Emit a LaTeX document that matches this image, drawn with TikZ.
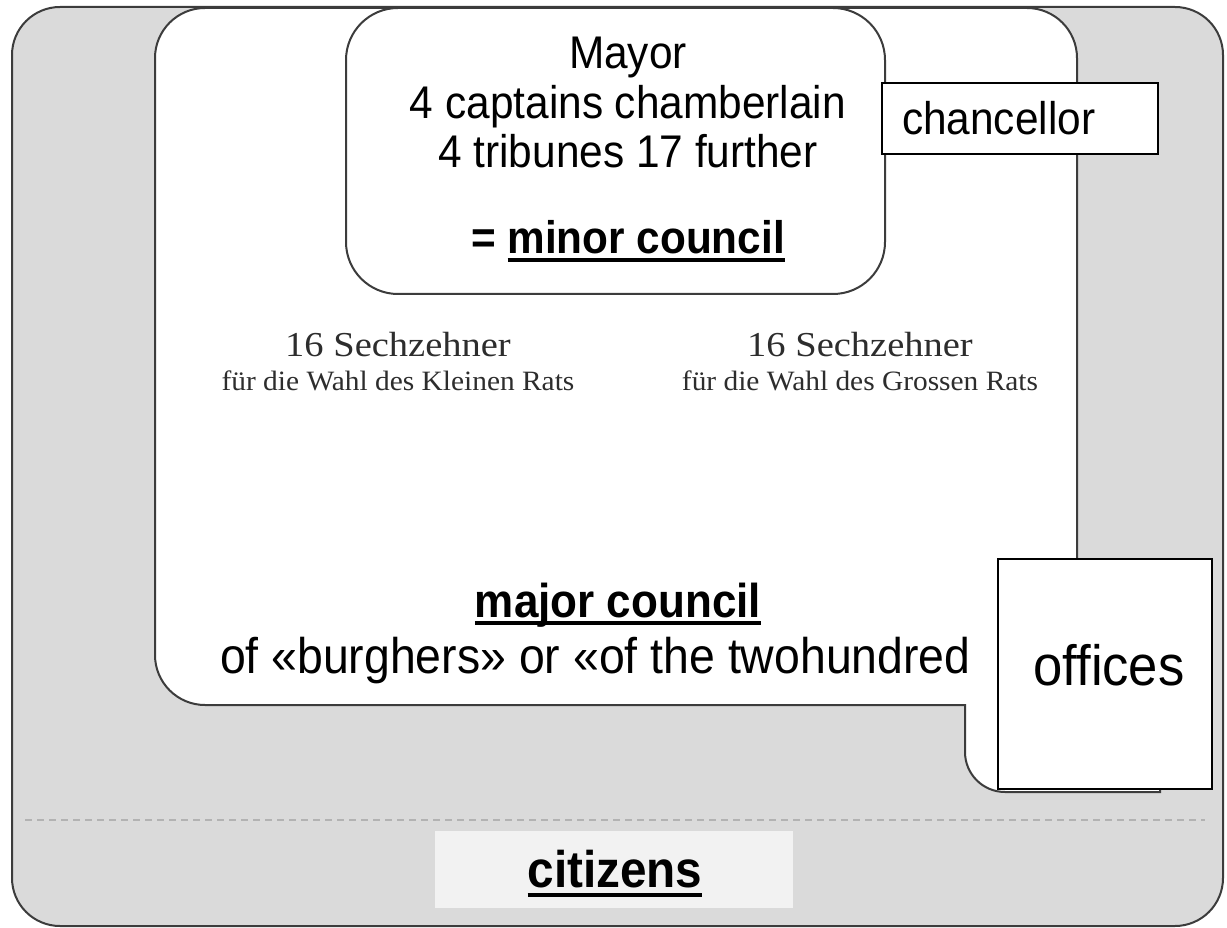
\documentclass[tikz,border=0pt]{standalone}
\usepackage{fontspec}
\usepackage{graphicx}
\newfontfamily\arial{Liberation Sans}
\newfontfamily\serifface{Liberation Serif}
\definecolor{bggray}{RGB}{218,218,218}
\definecolor{edge}{RGB}{60,60,60}
\definecolor{citbg}{RGB}{242,242,242}
\definecolor{inkgray}{RGB}{45,45,45}
\definecolor{dashgray}{RGB}{178,178,178}
\newcommand{\fs}[1]{\fontsize{#1}{#1}\selectfont}
\newcommand{\vst}[1]{\scalebox{1}[1.08]{#1}}
\begin{document}
\begin{tikzpicture}[x=1pt,y=-1pt,
  sans/.style={inner sep=0pt, outer sep=0pt},
  serif/.style={inner sep=0pt, outer sep=0pt, text=inkgray},
  plainbox/.style={draw=black, line width=2pt, fill=white, inner sep=0pt},
  shapeline/.style={draw=edge, line width=2pt},
  uline/.style={line width=3.5pt, black}]
\useasboundingbox (0,0) rectangle (1227,928);

% outer grey region (citizens)
\filldraw[shapeline, fill=bggray, rounded corners=48] (12,7) rectangle (1223,926);
\draw[dashgray, line width=1.5pt, dash pattern=on 7pt off 5pt] (25,820) -- (1205,820);

% major council region with tab
\filldraw[shapeline, fill=white]
  (155,58) arc[start angle=180, end angle=270, radius=50]
  -- (1027,8) arc[start angle=270, end angle=360, radius=50]
  -- (1077,600) -- (1160,600) -- (1160,792) -- (1005,792)
  arc[start angle=90, end angle=180, radius=40]
  -- (965,705) -- (205,705)
  arc[start angle=90, end angle=180, radius=50] -- cycle;

% minor council region
\filldraw[shapeline, fill=white, rounded corners=52] (346,8) rectangle (885,294);

% minor council texts
\node[sans, anchor=base] (mayor) at (628,69) {\arial\fs{42.4}\vst{Mayor}};
\node[sans, anchor=base] (captains) at (628,119) {\arial\fs{42.4}\vst{4 captains chamberlain}};
\node[sans, anchor=base] (tribunes) at (628,168) {\arial\fs{42.4}\vst{4 tribunes 17 further}};
\node[sans, anchor=base west] (mctitle) at (507.5,254) {\arial\bfseries\fs{42.3}\vst{minor council}};
\node[sans, anchor=base east, xshift=-11.8pt] (mceq) at (mctitle.base west) {\arial\bfseries\fs{42.3}\vst{=}};
\draw[uline] ([yshift=-6pt]mctitle.base west) -- ([yshift=-6pt]mctitle.base east);

% chancellor
\node[plainbox, minimum width=276pt, minimum height=71pt] (chbox) at (1020,118.5) {};
\node[sans, anchor=base west] (chancellor) at (902,135) {\arial\fs{42.4}\vst{chancellor}};

% Sechzehner
\node[serif, anchor=base] (sechL) at (398,356) {\serifface\fs{35}\scalebox{1.1}[1]{16 Sechzehner}};
\node[serif, anchor=base] (wahlL) at (398,390) {\serifface\fs{28}\scalebox{1.05}[1]{für die Wahl des Kleinen Rats}};
\node[serif, anchor=base] (sechR) at (860,356) {\serifface\fs{35}\scalebox{1.1}[1]{16 Sechzehner}};
\node[serif, anchor=base] (wahlR) at (860,390) {\serifface\fs{28}\scalebox{1.05}[1]{für die Wahl des Grossen Rats}};

% major council texts
\node[sans, anchor=base] (mjtitle) at (618,617) {\arial\bfseries\fs{44}\vst{major council}};
\draw[uline] ([yshift=-6pt]mjtitle.base west) -- ([yshift=-6pt]mjtitle.base east);
\node[sans, anchor=base west] (burghers) at (220,673) {\arial\fs{46.4}\vst{of «burghers» or «of the twohundred}};

% offices
\node[plainbox, minimum width=214pt, minimum height=230pt] (offbox) at (1105,674) {};
\node[sans, anchor=base] (offices) at (1109,685) {\arial\fs{52.6}\vst{offices}};

% citizens
\node[fill=citbg, inner sep=0pt, minimum width=358pt, minimum height=77pt] (citbox) at (614,869.5) {};
\node[sans, anchor=base] (citizens) at (615,887) {\arial\bfseries\fs{47.7}\vst{citizens}};
\draw[uline, line width=4pt] ([yshift=-8pt]citizens.base west) -- ([yshift=-8pt]citizens.base east);
\end{tikzpicture}
\end{document}
